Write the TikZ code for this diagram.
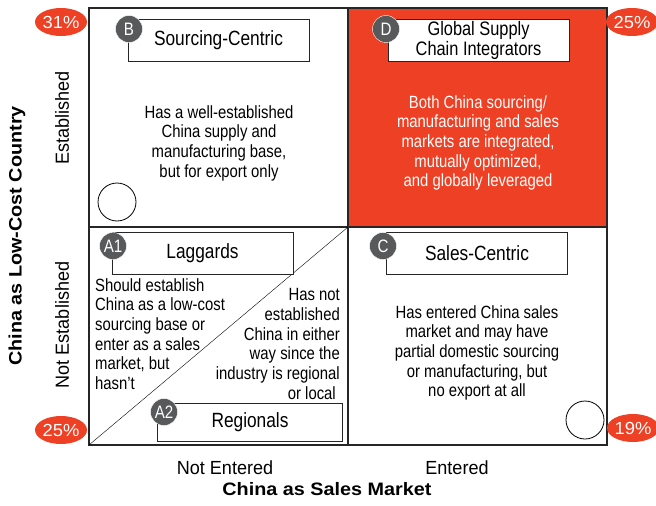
\documentclass[tikz,border=0pt]{standalone}
\usepackage{fontspec}
\setmainfont{Liberation Sans}[FakeStretch=0.84]
\usetikzlibrary{shapes.geometric}
\definecolor{matrixred}{RGB}{238,64,36}
\definecolor{tagGray}{RGB}{88,89,91}

\begin{document}
\begin{tikzpicture}[x=1pt,y=-1pt]
		\tikzstyle{quad-text}=[align=center,inner sep=0pt,font=\fontsize{17.7}{19.7}\selectfont]
		\tikzstyle{tag-box}=[draw=black!85,fill=white,thick,minimum width=181pt,minimum height=42pt,inner sep=0pt,font=\fontsize{20.6}{21}\selectfont]
		\tikzstyle{tag-letter}=[circle,fill=tagGray,draw=white,thin,text=white,minimum size=27pt,inner sep=0pt,font=\fontsize{18}{18}\selectfont]
		\tikzstyle{share}=[ellipse,fill=matrixred,text=white,minimum width=51pt,minimum height=28pt,inner sep=0pt,font=\fontsize{17.5}{17.5}\selectfont\addfontfeature{FakeStretch=1.05}]
		\tikzstyle{frame}=[draw=black!85,line width=1.4pt]
		\tikzstyle{marker}=[circle,draw,thick,minimum size=38pt,inner sep=0pt]
		\tikzstyle{axis-text}=[inner sep=0pt,font=\fontsize{19}{19}\selectfont\addfontfeature{FakeStretch=0.95}]
		\tikzstyle{axis-title}=[inner sep=0pt,font=\fontsize{18}{19}\selectfont\bfseries\addfontfeature{FakeStretch=1.1}]
		\useasboundingbox (0,0) rectangle (656,506);
		% grid
		\coordinate (nw) at (89,8);
		\coordinate (n) at (348,8);
		\coordinate (ne) at (607,8);
		\coordinate (w) at (89,227);
		\coordinate (c) at (348,227);
		\coordinate (e) at (607,227);
		\coordinate (sw) at (89,445);
		\coordinate (s) at (348,445);
		\coordinate (se) at (607,445);
		\fill [matrixred] (n) rectangle (e);
		\draw [frame] (nw) rectangle (se);
		\draw [frame] (n) -- (s);
		\draw [frame] (w) -- (e);
		\draw [thin] (sw) -- (c);
		% quadrant B
		\node [tag-box] at (218.5,40) (b-box) {Sourcing-Centric};
		\node [tag-letter] at (129,29) (b) {B};
		\node [quad-text] at (219,143) (b-text) {Has a well-established\\China supply and\\manufacturing base,\\but for export only};
		\node [marker] at (117,202) (b-mark) {};
		% quadrant D
		\node [tag-box,font=\fontsize{19.5}{20.5}\selectfont,align=center] at (478.5,40.5) (d-box) {Global Supply\\Chain Integrators};
		\node [tag-letter] at (386,29) (d) {D};
		\node [quad-text,text=white] at (478,143) (d-text) {Both China sourcing/\\manufacturing and sales\\markets are integrated,\\mutually optimized,\\and globally leveraged};
		% quadrant A1 / A2
		\node [tag-box] at (202.5,253) (a1-box) {Laggards};
		\node [tag-letter] at (113,246) (a1) {A1};
		\node [quad-text,align=left,anchor=west] at (95,334) (a1-text) {Should establish\\China as a low-cost\\sourcing base or\\enter as a sales\\market, but\\hasn't};
		\node [quad-text,align=right,anchor=east] at (340,344) (a2-text) {Has not\\established\\China in either\\way since the\\industry is regional\\or local\hspace*{4pt}};
		\node [tag-box,minimum width=185pt,minimum height=38pt] at (250,422) (a2-box) {Regionals};
		\node [tag-letter] at (164,412) (a2) {A2};
		% quadrant C
		\node [tag-box] at (477,253.5) (c-box) {Sales-Centric};
		\node [tag-letter] at (383,246) (c-tag) {C};
		\node [quad-text] at (477,353) (c-text) {Has entered China sales\\market and may have\\partial domestic sourcing\\or manufacturing, but\\no export at all};
		\node [marker] at (585,420) (c-mark) {};
		% shares
		\node [share] at (61,22) (p-b) {31\%};
		\node [share] at (632,22) (p-d) {25\%};
		\node [share] at (61,430) (p-a) {25\%};
		\node [share] at (633,428) (p-c) {19\%};
		% axes
		\node [axis-text,rotate=90] at (62,118) (y-top) {Established};
		\node [axis-text,rotate=90] at (62,325) (y-bot) {Not Established};
		\node [axis-title,rotate=90] at (17,236) (y-title) {China as Low-Cost Country};
		\node [axis-text] at (225,468) (x-left) {Not Entered};
		\node [axis-text] at (457,468) (x-right) {Entered};
		\node [axis-title] at (327,489) (x-title) {China as Sales Market};
	\end{tikzpicture}
\end{document}
